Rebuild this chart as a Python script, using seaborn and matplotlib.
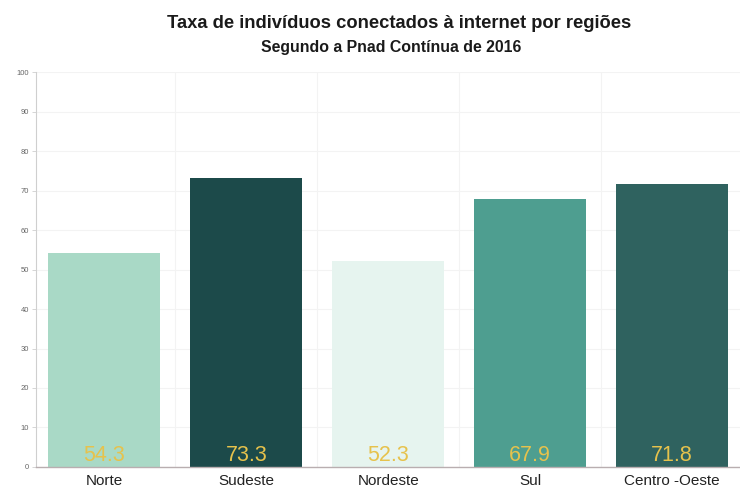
import matplotlib
matplotlib.use("Agg")
import matplotlib.pyplot as plt
from matplotlib.ticker import FixedLocator
import seaborn as sns
import pandas as pd

regioes = ["Norte", "Sudeste", "Nordeste", "Sul", "Centro -Oeste"]
taxas = [54.3, 73.3, 52.3, 67.9, 71.8]
cores = ["#a9d9c6", "#1c4a4a", "#e6f4ef", "#4e9e90", "#2f625f"]
yticks = list(range(0, 101, 10))

df = pd.DataFrame({"regiao": regioes, "taxa": taxas})

sns.set_theme(style="white")
plt.rcParams["font.family"] = ["Liberation Sans", "DejaVu Sans"]

fig = plt.figure(figsize=(7.4, 4.92), dpi=100)
ax = fig.add_axes([0.049, 0.051, 0.953, 0.802])

sns.barplot(data=df, x="regiao", y="taxa", hue="regiao", palette=cores,
            width=0.79, saturation=1, legend=False, linewidth=0, ax=ax)

ax.set_xlim(-0.48, 4.49)
ax.set_ylim(0, 100)
ax.set_yticks(yticks)
ax.set_xlabel("")
ax.set_ylabel("")

# faint grid behind the bars
ax.set_axisbelow(True)
ax.yaxis.grid(True, color="#f3f3f3", linewidth=0.8)
ax.xaxis.set_minor_locator(FixedLocator([i + 0.5 for i in range(len(regioes) - 1)]))
ax.xaxis.grid(True, which="minor", color="#f3f3f3", linewidth=0.8)

for s in ["top", "right"]:
    ax.spines[s].set_visible(False)
ax.spines["left"].set_color("#cfcfcf")
ax.spines["left"].set_linewidth(0.8)
ax.spines["bottom"].set_color("#b9aeb0")
ax.spines["bottom"].set_linewidth(1.0)

ax.tick_params(axis="y", labelsize=5.5, labelcolor="#666666", length=3,
               color="#cfcfcf", width=0.6, left=True, pad=2)
ax.tick_params(axis="x", labelsize=11, labelcolor="#222222", length=0, pad=5)
ax.tick_params(axis="x", which="minor", length=0)

# value labels at the base of each bar
for i, v in enumerate(taxas):
    ax.text(i, 0.2, f"{v:.1f}", ha="center", va="bottom", fontsize=15.5,
            color="#e6c24c")

fig.text(0.539, 0.953, "Taxa de indivíduos conectados à internet por regiões",
         ha="center", va="center", fontsize=13.2, fontweight="bold",
         color="#1a1a1a")
fig.text(0.528, 0.903, "Segundo a Pnad Contínua de 2016", ha="center",
         va="center", fontsize=11.4, fontweight="bold", color="#1a1a1a")

fig.savefig("out.png", dpi=100)
